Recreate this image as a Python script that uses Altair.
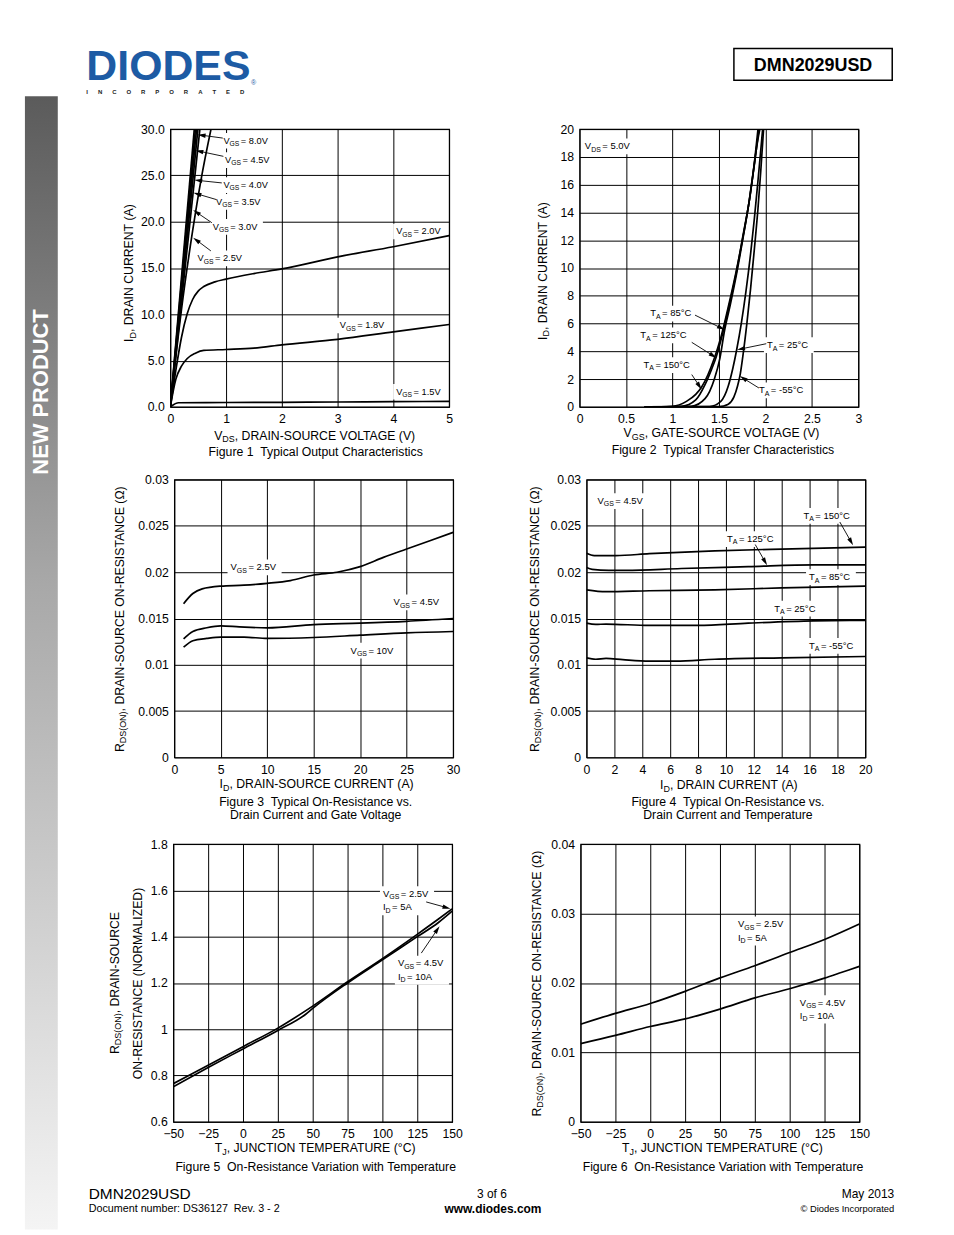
import math
import altair as alt
import pandas as pd

FONT = "Liberation Sans"
W, H = 280, 279

# ---------------- Figure 1: Typical Output Characteristics ----------------
f1_vds_8v0 = [0, 0.43]
f1_id_8v0 = [0, 30]
f1_vds_4v5 = [0, 0.45]
f1_id_4v5 = [0, 30]
f1_vds_4v0 = [0, 0.47]
f1_id_4v0 = [0, 30]
f1_vds_3v5 = [0, 0.495]
f1_id_3v5 = [0, 30]
f1_vds_3v0 = [0, 0.53]
f1_id_3v0 = [0, 30]
f1_vds_2v5 = [0, 0.2, 0.4, 0.55, 0.73]
f1_id_2v5 = [0, 10.5, 19.0, 24.5, 30]
f1_vds_2v0 = [0, 0.1, 0.2, 0.3, 0.4, 0.5, 0.6, 0.8, 1, 1.5, 2, 3, 4, 5]
f1_id_2v0 = [0, 4, 7.5, 10, 11.6, 12.5, 13, 13.5, 13.8, 14.4, 14.9, 16.2, 17.3, 18.5]
f1_vds_1v8 = [0, 0.1, 0.2, 0.3, 0.45, 0.6, 1, 1.5, 2, 3, 4, 5]
f1_id_1v8 = [0, 3, 4.4, 5.2, 5.8, 6.1, 6.2, 6.35, 6.7, 7.3, 8.1, 8.9]
f1_vds_1v5 = [0, 0.15, 1, 2, 3, 4, 5]
f1_id_1v5 = [0, 0.45, 0.48, 0.5, 0.53, 0.57, 0.6]
f1_xticks = [0, 1, 2, 3, 4, 5]
f1_yticks = [0, 5, 10, 15, 20, 25, 30]

# ---------------- Figure 2: Typical Transfer Characteristics ----------------
f2_vgs_m55 = [0.7, 1.5, 1.6, 1.66, 1.7, 1.73, 1.76, 1.8, 1.84, 1.88, 1.92, 1.95, 1.98]
f2_id_m55 = [0, 0.02, 0.2, 0.7, 1.5, 2.4, 3.8, 6.0, 8.5, 11.3, 14.3, 17, 20]
f2_vgs_25 = [0.7, 1.4, 1.52, 1.6, 1.65, 1.69, 1.74, 1.79, 1.84, 1.88, 1.92, 1.95, 1.97]
f2_id_25 = [0, 0.03, 0.4, 1.5, 2.8, 4.1, 6, 8.3, 11, 13.5, 16.3, 18.5, 20]
f2_vgs_85 = [0.7, 1.2, 1.35, 1.45, 1.51, 1.56, 1.62, 1.69, 1.76, 1.82, 1.87, 1.92, 1.94]
f2_id_85 = [0, 0.05, 0.6, 2, 3.5, 5.5, 7.3, 9.6, 12.2, 14.6, 17, 19.3, 20]
f2_vgs_125 = [0.7, 1.1, 1.25, 1.35, 1.42, 1.47, 1.54, 1.61, 1.69, 1.76, 1.83, 1.88, 1.93]
f2_id_125 = [0, 0.05, 0.5, 1.6, 2.7, 3.6, 5.3, 7.3, 9.8, 12.4, 15, 17.4, 20]
f2_vgs_150 = [0.7, 1.0, 1.15, 1.25, 1.31, 1.38, 1.45, 1.52, 1.6, 1.68, 1.76, 1.83, 1.88, 1.92]
f2_id_150 = [0, 0.05, 0.4, 0.9, 1.4, 2.3, 3.5, 5, 7.2, 9.6, 12.3, 15, 17.5, 20]
f2_xticks = [0, 0.5, 1, 1.5, 2, 2.5, 3]
f2_yticks = [0, 2, 4, 6, 8, 10, 12, 14, 16, 18, 20]

# ---------------- Figure 3: On-Resistance vs Drain Current and Gate Voltage ----------------
f3_id_2v5 = [1, 2, 3, 5, 7.5, 10, 12.5, 15, 17.5, 20, 22.5, 25, 27.5, 30]
f3_r_2v5 = [0.0166, 0.0177, 0.0182, 0.0185, 0.0186, 0.0188, 0.0191, 0.0197, 0.0200, 0.0206, 0.0216, 0.0225, 0.0234, 0.0243]
f3_id_4v5 = [1, 2, 3.5, 5, 7, 10, 15, 20, 25, 30]
f3_r_4v5 = [0.0128, 0.0136, 0.0140, 0.0142, 0.0141, 0.0140, 0.01435, 0.0145, 0.0147, 0.0150]
f3_id_10v = [1, 2, 3.5, 5, 7.5, 10, 15, 20, 25, 30]
f3_r_10v = [0.0119, 0.0126, 0.01285, 0.0130, 0.0130, 0.01285, 0.01295, 0.0132, 0.01345, 0.0136]
f3_xticks = [0, 5, 10, 15, 20, 25, 30]
f3_yticks = [0, 0.005, 0.01, 0.015, 0.02, 0.025, 0.03]

# ---------------- Figure 4: On-Resistance vs Drain Current and Temperature ----------------
f4_id_150 = [0, 0.55, 1.4, 2.1, 4.5, 9.2, 14, 20]
f4_r_150 = [0.02206, 0.0218, 0.0218, 0.0218, 0.0220, 0.0223, 0.0225, 0.0227]
f4_id_125 = [0, 0.4, 1.6, 2.8, 6.8, 11.6, 16.3, 20]
f4_r_125 = [0.0205, 0.0203, 0.0202, 0.0202, 0.0204, 0.0206, 0.0208, 0.0208]
f4_id_85 = [0, 1.4, 4.5, 9.2, 14, 20]
f4_r_85 = [0.0181, 0.0179, 0.0180, 0.0181, 0.0183, 0.0185]
f4_id_25 = [0, 0.66, 1.4, 4.5, 8, 11.6, 16.3, 20]
f4_r_25 = [0.0145, 0.01436, 0.0144, 0.01425, 0.01425, 0.0145, 0.01475, 0.0148]
f4_id_m55 = [0, 0.66, 1.4, 2.6, 4.5, 6.4, 9.2, 14, 20]
f4_r_m55 = [0.01075, 0.0106, 0.0107, 0.01056, 0.0104, 0.0104, 0.0106, 0.01075, 0.0109]
f4_xticks = [0, 2, 4, 6, 8, 10, 12, 14, 16, 18, 20]
f4_yticks = [0, 0.005, 0.01, 0.015, 0.02, 0.025, 0.03]

# ---------------- Figure 5: normalized On-Resistance vs Temperature ----------------
f5_tj_a = [-50, -25, 0, 25, 50, 75, 100, 125, 140, 150]
f5_r_a = [0.765, 0.845, 0.925, 1.005, 1.1, 1.205, 1.305, 1.41, 1.475, 1.52]
f5_tj_b = [-50, -25, 0, 25, 45, 50, 75, 100, 125, 140, 150]
f5_r_b = [0.752, 0.835, 0.915, 0.995, 1.065, 1.09, 1.2, 1.3, 1.4, 1.46, 1.51]
f5_xticks = [-50, -25, 0, 25, 50, 75, 100, 125, 150]
f5_yticks = [0.6, 0.8, 1.0, 1.2, 1.4, 1.6, 1.8]

# ---------------- Figure 6: On-Resistance vs Temperature ----------------
f6_tj_a = [-50, -25, 0, 25, 50, 75, 100, 125, 150]
f6_r_a = [0.01406, 0.01562, 0.01704, 0.01879, 0.02073, 0.02249, 0.02438, 0.02627, 0.0285]
f6_tj_b = [-50, -25, 0, 25, 50, 75, 100, 125, 137.5, 150]
f6_r_b = [0.01127, 0.01245, 0.01373, 0.01482, 0.01624, 0.01785, 0.01917, 0.02069, 0.02154, 0.02239]
f6_xticks = [-50, -25, 0, 25, 50, 75, 100, 125, 150]
f6_yticks = [0, 0.01, 0.02, 0.03, 0.04]

# ---------------- helpers ----------------
NB = "\u00a0"
CW = {' ': 278, NB: 278, '(': 333, ')': 333, ',': 278, '-': 333, '.': 278, '=': 584,
      ':': 278, '°': 400, 'Ω': 768, '©': 737}
for c in '0123456789':
    CW[c] = 556
CW.update(dict(A=667, B=667, C=722, D=722, E=667, F=611, G=778, H=722, I=278, J=500, K=667,
               L=556, M=833, N=722, O=778, P=667, Q=778, R=722, S=667, T=611, U=722, V=667,
               W=944, X=667, Y=667, Z=611))
CW.update(dict(a=556, b=556, c=500, d=556, e=556, f=278, g=556, h=556, i=222, j=222, k=500,
               l=222, m=833, n=556, o=556, p=556, q=556, r=333, s=500, t=278, u=556, v=500,
               w=722, x=500, y=500, z=500))

ONE = pd.DataFrame({"k": [0]})
ARROW = "M0,-1L0.55,1L-0.55,1Z"
NOVIEW = alt.ViewBackground(strokeOpacity=0)


def tw(s, fs):
    return sum(CW.get(c, 556) for c in s) * fs / 1000.0


def nb(s):
    return s.replace(" ", NB)


def series_df(items):
    rows = []
    for name, xs, ys in items:
        for i, (x, y) in enumerate(zip(xs, ys)):
            rows.append({"s": name, "i": i, "x": x, "y": y})
    return pd.DataFrame(rows)


def txt(text, px, py, fs, align="left", bold=False, color="black", angle=None, dx=0.0, dy=0.0):
    kw = dict(text=nb(text), align=align, baseline="alphabetic", fontSize=fs, font=FONT, color=color)
    if dx:
        kw["dx"] = dx
    if dy:
        kw["dy"] = dy
    if bold:
        kw["fontWeight"] = "bold"
    if angle:
        kw["angle"] = angle
    return alt.Chart(ONE).mark_text(**kw).encode(x=alt.value(px), y=alt.value(py))


def frame(x1, y1, x2, y2):
    # invisible rectangle that fixes the layout extent of a view
    return alt.Chart(ONE).mark_rect(opacity=0).encode(
        x=alt.value(x1), x2=alt.value(x2), y=alt.value(y1), y2=alt.value(y2))


def rich_px(parts, px, py, fs=12.3, sub=9.0, align="center", angle=None, sub_dy=2.5):
    total = sum(tw(t, sub if s else fs) for t, s in parts)
    off = {"left": 0.0, "center": -total / 2.0, "right": -total}[align]
    out = []
    for t, s in parts:
        f = sub if s else fs
        out.append(txt(t, px, py, f, angle=angle, dx=off, dy=(sub_dy if s else 0.0)))
        off += tw(t, f)
    return out


class Panel:
    def __init__(self, xdom, ydom, xt, yt, xf, yf):
        self.xdom, self.ydom = xdom, ydom
        self.sx = alt.Scale(domain=xdom, nice=False, zero=False)
        self.sy = alt.Scale(domain=ydom, nice=False, zero=False)
        self.ax = alt.Axis(values=xt, format=xf, title=None, labelFlush=False, labelOverlap=False)
        self.ay = alt.Axis(values=yt, format=yf, title=None, labelFlush=False, labelOverlap=False)

    def ex(self, f="x"):
        return alt.X(f + ":Q", scale=self.sx, axis=self.ax)

    def ey(self, f="y"):
        return alt.Y(f + ":Q", scale=self.sy, axis=self.ay)

    def label(self, lines, x, y, fs=9.5, sub=7.0, gap=13.0):
        df = pd.DataFrame({"x": [x], "y": [y]})
        half = 0.36 * fs
        wmax = max(sum(tw(t, sub if s else fs) + (1.5 if s else 0) for t, s in parts) for parts in lines)
        box = alt.Chart(df).mark_rect(
            color="white", xOffset=-3, x2Offset=wmax + 3, yOffset=-half - 4,
            y2Offset=half + 5 + gap * (len(lines) - 1)).encode(
            x=self.ex(), y=self.ey(), x2=alt.X2("x"), y2=alt.Y2("y"))
        texts = []
        for li, parts in enumerate(lines):
            off = 0.0
            for t, s in parts:
                f = sub if s else fs
                texts.append(alt.Chart(df).mark_text(
                    text=nb(t), align="left", baseline="alphabetic", dx=off,
                    dy=li * gap + half + (2.5 if s else 0.0), fontSize=f, font=FONT,
                    color="black").encode(x=self.ex(), y=self.ey()))
                off += tw(t, f) + (1.5 if s else 0.0)
        return [box], texts

    def arrow(self, x1, y1, x2, y2, head=8.0):
        kx = W / (self.xdom[1] - self.xdom[0])
        ky = H / (self.ydom[1] - self.ydom[0])
        px = (x2 - x1) * kx
        py = -(y2 - y1) * ky
        L = math.hypot(px, py)
        ux, uy = px / L, py / L
        ang = (math.degrees(math.atan2(uy, ux)) + 90.0) % 360.0
        cx = x2 - ux * head / 2.0 / kx
        cy = y2 + uy * head / 2.0 / ky
        line = alt.Chart(pd.DataFrame({"x": [x1], "y": [y1], "x2": [cx], "y2": [cy]})).mark_rule(
            color="black", strokeWidth=0.9).encode(
            x=self.ex(), y=self.ey(), x2=alt.X2("x2"), y2=alt.Y2("y2"))
        tip = alt.Chart(pd.DataFrame({"x": [cx], "y": [cy]})).mark_point(
            shape=ARROW, size=head * head, angle=ang, filled=True, color="black",
            opacity=1, strokeWidth=0).encode(x=self.ex(), y=self.ey())
        return [line, tip]

    def build(self, df, labels, arrows, deco):
        boxes, texts, arr = [], [], []
        for lab in labels:
            kw = lab[3] if len(lab) > 3 else {}
            b, t = self.label(lab[0], lab[1], lab[2], **kw)
            boxes += b
            texts += t
        for a in arrows:
            arr += self.arrow(*a)
        lines = alt.Chart(df).mark_line(color="black", strokeWidth=1.7, interpolate="monotone",
                                        clip=True).encode(
            x=self.ex(), y=self.ey(), detail="s:N", order="i:Q")
        layers = boxes + [lines] + arr + texts + list(deco)
        return alt.layer(*layers).properties(width=W, height=H)


def vg(v):
    return [("V", 0), ("GS", 1), (" = " + v, 0)]


def ta(v):
    return [("T", 0), ("A", 1), (" = " + v, 0)]


def idl(v):
    return [("I", 0), ("D", 1), (" = " + v, 0)]


# page tiles (page pixels): every panel owns one tile; its plot origin is placed inside it
ROWS = [(100, 464), (464, 827), (827, 1180)]
COLS = [(61, 500), (500, 946)]


def tile(origin, r, c):
    ox, oy = origin
    return frame(COLS[c][0] - ox, ROWS[r][0] - oy, COLS[c][1] - ox, ROWS[r][1] - oy)


RDS = [("R", 0), ("DS(ON)", 1), (", DRAIN-SOURCE ON-RESISTANCE (Ω)", 0)]
TJ = [("T", 0), ("J", 1), (", JUNCTION TEMPERATURE (°C)", 0)]

# ---------------- Figure 1 ----------------
p1 = Panel([0, 5], [0, 30], f1_xticks, f1_yticks, "d", ".1f")
df1 = series_df([
    ("8.0V", f1_vds_8v0, f1_id_8v0), ("4.5V", f1_vds_4v5, f1_id_4v5),
    ("4.0V", f1_vds_4v0, f1_id_4v0), ("3.5V", f1_vds_3v5, f1_id_3v5),
    ("3.0V", f1_vds_3v0, f1_id_3v0), ("2.5V", f1_vds_2v5, f1_id_2v5),
    ("2.0V", f1_vds_2v0, f1_id_2v0), ("1.8V", f1_vds_1v8, f1_id_1v8),
    ("1.5V", f1_vds_1v5, f1_id_1v5)])
l1 = dict(fs=9.3, sub=6.8)
f1_labels = [
    ([vg("8.0V")], 0.952, 28.8, l1), ([vg("4.5V")], 0.982, 26.7, l1),
    ([vg("4.0V")], 0.952, 24.0, l1), ([vg("3.5V")], 0.821, 22.2, l1),
    ([vg("3.0V")], 0.763, 19.5, l1), ([vg("2.5V")], 0.488, 16.1, l1),
    ([vg("2.0V")], 4.05, 19.0, l1), ([vg("1.8V")], 3.04, 8.85, l1),
    ([vg("1.5V")], 4.05, 1.69, l1)]
f1_arrows = [
    (0.941, 29.03, 0.49, 29.4), (0.952, 27.06, 0.45, 27.7), (0.923, 24.19, 0.43, 24.5),
    (0.821, 22.40, 0.415, 23.12), (0.745, 19.89, 0.41, 21.26), (0.727, 16.85, 0.41, 18.28)]
deco1 = (
    [tile((170, 126), 0, 0)]
    + rich_px([("V", 0), ("DS", 1), (", DRAIN-SOURCE VOLTAGE (V)", 0)], W / 2 + 6, H + 33)
    + rich_px([("I", 0), ("D", 1), (", DRAIN CURRENT (A)", 0)], -37, H / 2 + 5, angle=270)
    + [txt("Figure 1  Typical Output Characteristics", W / 2 + 6, H + 49.5, 12.3, align="center")]
)
fig1 = p1.build(df1, f1_labels, f1_arrows, deco1)

# ---------------- Figure 2 ----------------
p2 = Panel([0, 3], [0, 20], f2_xticks, f2_yticks, "~g", "d")
df2 = series_df([
    ("-55", f2_vgs_m55, f2_id_m55), ("25", f2_vgs_25, f2_id_25), ("85", f2_vgs_85, f2_id_85),
    ("125", f2_vgs_125, f2_id_125), ("150", f2_vgs_150, f2_id_150)])
f2_labels = [
    ([[("V", 0), ("DS", 1), (" = 5.0V", 0)]], 0.057, 18.8),
    ([ta("85°C")], 0.76, 6.76), ([ta("125°C")], 0.653, 5.18), ([ta("150°C")], 0.688, 3.05),
    ([ta("25°C")], 2.016, 4.48), ([ta("-55°C")], 1.93, 1.22)]
f2_arrows = [
    (1.242, 6.61, 1.563, 5.55), (1.207, 4.65, 1.474, 3.53), (1.207, 2.33, 1.313, 1.26),
    (2.009, 4.55, 1.695, 4.12), (1.93, 1.36, 1.724, 2.22)]
deco2 = (
    [tile((579, 126), 0, 1)]
    + rich_px([("V", 0), ("GS", 1), (", GATE-SOURCE VOLTAGE (V)", 0)], W / 2 + 4, H + 30.5)
    + rich_px([("I", 0), ("D", 1), (", DRAIN CURRENT (A)", 0)], -33, H / 2 + 3, angle=270)
    + [txt("Figure 2  Typical Transfer Characteristics", W / 2 + 4, H + 47.5, 12.3, align="center")]
)
fig2 = p2.build(df2, f2_labels, f2_arrows, deco2)

# ---------------- Figure 3 ----------------
p3 = Panel([0, 30], [0, 0.03], f3_xticks, f3_yticks, "d", "~g")
df3 = series_df([("2.5V", f3_id_2v5, f3_r_2v5), ("4.5V", f3_id_4v5, f3_r_4v5), ("10V", f3_id_10v, f3_r_10v)])
f3_labels = [([vg("2.5V")], 6.05, 0.02057), ([vg("4.5V")], 23.6, 0.0168), ([vg("10V")], 18.97, 0.01159)]
deco3 = (
    [tile((174, 476), 1, 0)]
    + rich_px([("I", 0), ("D", 1), (", DRAIN-SOURCE CURRENT (A)", 0)], W / 2 + 3, H + 31)
    + rich_px(RDS, -51, H / 2, angle=270)
    + [txt("Figure 3  Typical On-Resistance vs.", W / 2 + 2, H + 48.5, 12.3, align="center"),
       txt("Drain Current and Gate Voltage", W / 2 + 2, H + 61.5, 12.3, align="center")]
)
fig3 = p3.build(df3, f3_labels, [], deco3)

# ---------------- Figure 4 ----------------
p4 = Panel([0, 20], [0, 0.03], f4_xticks, f4_yticks, "d", "~g")
df4 = series_df([("150", f4_id_150, f4_r_150), ("125", f4_id_125, f4_r_125), ("85", f4_id_85, f4_r_85),
                 ("25", f4_id_25, f4_r_25), ("-55", f4_id_m55, f4_r_m55)])
f4_labels = [
    ([vg("4.5V")], 0.78, 0.02774), ([ta("150°C")], 15.56, 0.02613), ([ta("125°C")], 10.08, 0.02363),
    ([ta("85°C")], 15.96, 0.01952), ([ta("25°C")], 13.47, 0.01611), ([ta("-55°C")], 15.96, 0.0121)]
f4_arrows = [(18.17, 0.02542, 19.12, 0.0229), (12.1, 0.02299, 12.95, 0.02076)]
deco4 = (
    [tile((586, 476), 1, 1)]
    + rich_px([("I", 0), ("D", 1), (", DRAIN CURRENT (A)", 0)], W / 2 + 3, H + 32)
    + rich_px(RDS, -48, H / 2, angle=270)
    + [txt("Figure 4  Typical On-Resistance vs.", W / 2 + 2, H + 49, 12.3, align="center"),
       txt("Drain Current and Temperature", W / 2 + 2, H + 61.5, 12.3, align="center")]
)
fig4 = p4.build(df4, f4_labels, f4_arrows, deco4)

# ---------------- Figure 5 ----------------
p5 = Panel([-50, 150], [0.6, 1.8], f5_xticks, f5_yticks, "d", "~g")
df5 = series_df([("VGS=2.5V ID=5A", f5_tj_a, f5_r_a), ("VGS=4.5V ID=10A", f5_tj_b, f5_r_b)])
f5_labels = [([vg("2.5V"), idl("5A")], 100.4, 1.586, dict(gap=13.3)),
             ([vg("4.5V"), idl("10A")], 111.1, 1.286, dict(gap=13.3))]
f5_arrows = [(131.4, 1.55, 148.8, 1.521), (127.9, 1.329, 141.0, 1.445)]
deco5 = (
    [tile((173, 840), 2, 0)]
    + rich_px(TJ, W / 2 + 3, H + 30.5)
    + rich_px([("R", 0), ("DS(ON)", 1), (", DRAIN-SOURCE", 0)], -55, H / 2, angle=270)
    + rich_px([("ON-RESISTANCE (NORMALIZED)", 0)], -31, H / 2, angle=270)
    + [txt("Figure 5  On-Resistance Variation with Temperature", W / 2 + 3, H + 49, 12.3, align="center")]
)
fig5 = p5.build(df5, f5_labels, f5_arrows, deco5)

# ---------------- Figure 6 ----------------
p6 = Panel([-50, 150], [0, 0.04], f6_xticks, f6_yticks, "d", "~g")
df6 = series_df([("VGS=2.5V ID=5A", f6_tj_a, f6_r_a), ("VGS=4.5V ID=10A", f6_tj_b, f6_r_b)])
f6_labels = [([vg("2.5V"), idl("5A")], 62.9, 0.0285, dict(gap=13.3)),
             ([vg("4.5V"), idl("10A")], 107.3, 0.01718, dict(gap=12.6))]
deco6 = (
    [tile((580, 840), 2, 1)]
    + rich_px(TJ, W / 2 + 3, H + 30.5)
    + rich_px(RDS, -40, H / 2, angle=270)
    + [txt("Figure 6  On-Resistance Variation with Temperature", W / 2 + 3, H + 49, 12.3, align="center")]
)
fig6 = p6.build(df6, f6_labels, [], deco6)

# ---------------- side bar, header, footer ----------------
side = alt.layer(
    frame(0, 0, 52, 1224),
    alt.Chart(ONE).mark_rect(color=alt.LinearGradient(
        gradient="linear", x1=0, x2=0, y1=0, y2=1,
        stops=[alt.GradientStop(color="#5b5b5b", offset=0),
               alt.GradientStop(color="#a8a8a8", offset=0.43),
               alt.GradientStop(color="#f4f4f4", offset=1)])).encode(
        x=alt.value(17), x2=alt.value(50), y=alt.value(86), y2=alt.value(1224)),
    txt("NEW PRODUCT", 40.3, 383, 22, align="center", bold=True, color="white", angle=270),
).properties(width=1, height=1, view=NOVIEW)

incorporated = (NB * 6).join(list("INCORPORATED"))
# header view: origin at page (60, 8)
header = alt.layer(
    frame(0, 0, 886, 92),
    txt("DIODES", 26.7, 69.5, 43, bold=True, color="#1d5ba4"),
    txt("®", 192, 74.5, 7, color="#1d5ba4"),
    txt(incorporated, 26.7, 83.5, 6, bold=True, color="#222222"),
    alt.Chart(ONE).mark_rect(fillOpacity=0, stroke="black", strokeWidth=1.5).encode(
        x=alt.value(677), x2=alt.value(836), y=alt.value(38), y2=alt.value(70)),
    txt("DMN2029USD", 756.5, 60.4, 18, align="center", bold=True),
).properties(width=1, height=1, view=NOVIEW)

# footer view: origin at page (60, 1180)
footer = alt.layer(
    frame(0, 0, 886, 52),
    txt("DMN2029USD", 29, 15.5, 15.5),
    txt("Document number: DS36127  Rev. 3 - 2", 29, 29, 10.8),
    txt("3 of 6", 434, 14.3, 12, align="center"),
    txt("www.diodes.com", 435, 29.3, 12, align="center", bold=True),
    txt("May 2013", 838, 14.3, 12, align="right"),
    txt("© Diodes Incorporated", 838, 28.4, 9.4, align="right"),
).properties(width=1, height=1, view=NOVIEW)


def spacer():
    return frame(0, 0, 1, 1).properties(width=1, height=1, view=NOVIEW)


row1 = alt.hconcat(spacer(), fig1, fig2, spacing=0)
row2 = alt.hconcat(spacer(), fig3, fig4, spacing=0)
row3 = alt.hconcat(spacer(), fig5, fig6, spacing=0)
main = alt.vconcat(header, row1, row2, row3, footer, spacing=0)
page = alt.hconcat(side, main, spacing=0)

chart = page.properties(padding=0, background="white").configure_view(
    stroke="black", strokeWidth=1.2
).configure_axis(
    grid=True, gridColor="black", gridOpacity=1, gridWidth=1, domain=False, ticks=False,
    labelFont=FONT, labelFontSize=12.3, labelColor="black", labelPadding=6
)

chart.save("out.html", embed_options={"renderer": "svg", "actions": False})
